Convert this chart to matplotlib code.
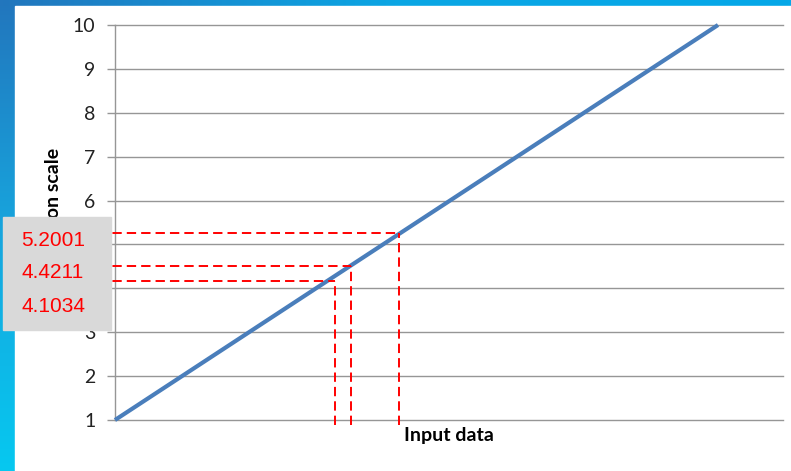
import numpy as np
import matplotlib
matplotlib.use("Agg")
import matplotlib.pyplot as plt
from matplotlib.patches import Rectangle
from matplotlib.colors import LinearSegmentedColormap

# data
line_x = [0, 9]
line_y = [1, 10]
yticks = [1, 2, 3, 4, 5, 6, 7, 8, 9, 10]
mark_x = [3.28, 3.52, 4.24]          # where the dashed verticals drop
mark_y = [4.17, 4.51, 5.25]          # dashed horizontal levels
mark_labels = ["5.2001", "4.4211", "4.1034"]

W, H = 791, 471
fig = plt.figure(figsize=(W / 100, H / 100), dpi=100)

# slide background: blue gradient strip on the left and top
bg = fig.add_axes([0, 0, 1, 1], zorder=-10)
bg.set_xlim(0, W); bg.set_ylim(H, 0); bg.axis("off")
grad = np.linspace(0, 1, 256).reshape(-1, 1)
cm_v = LinearSegmentedColormap.from_list("v", ["#2276bd", "#17a6de", "#06c8f0"])
cm_h = LinearSegmentedColormap.from_list("h", ["#2276bd", "#0ba6e4", "#05a8e8"])
bg.imshow(grad, cmap=cm_v, extent=[0, W, H, 0], aspect="auto")
bg.imshow(grad.T, cmap=cm_h, extent=[0, W, 6, 0], aspect="auto")
bg.add_patch(Rectangle((15, 6), W - 15, H - 6, color="white"))

ax = fig.add_axes([115 / W, 51 / H, 668 / W, 395 / H])
ax.set_xlim(0, 9 * 668 / 603)
ax.set_ylim(1, 10)
ax.patch.set_alpha(0)

grid_c = "#969696"
for yv in yticks:
    ax.axhline(yv, color=grid_c, lw=1.0, clip_on=False, zorder=1)
for s in ["top", "right", "bottom"]:
    ax.spines[s].set_visible(False)
ax.spines["left"].set_color(grid_c)
ax.spines["left"].set_linewidth(1.0)
ax.set_xticks([])
ax.set_yticks(yticks)
ax.tick_params(axis="y", direction="out", length=6, width=1.0, color=grid_c,
               pad=8, labelsize=14, labelcolor="#222222")
for t in ax.get_yticklabels():
    t.set_fontfamily("Lato")

ax.plot(line_x, line_y, color="#4a7ebb", lw=3, solid_capstyle="butt", zorder=3, clip_on=False)

for xv, yv in zip(mark_x, mark_y):
    ax.plot([-0.25, xv], [yv, yv], color="red", lw=1.4, dashes=(4.8, 2.6), zorder=4, clip_on=False)
    ax.plot([xv, xv], [0.89, yv], color="red", lw=1.4, dashes=(4.8, 2.6), zorder=4, clip_on=False)

ax.set_xlabel("Input data", fontsize=14, fontweight="bold", family="Lato", labelpad=5)
fig.text(54 / W, 1 - 148 / H, "Position on scale", rotation=90, ha="center", va="top",
         fontsize=14, fontweight="bold", family="Lato")

# grey label box over the axis title
fig.patches.append(Rectangle((3 / W, 1 - 330 / H), 108 / W, 113 / H,
                             transform=fig.transFigure, color="#d9d9d9", zorder=5))
for lbl, yp in zip(mark_labels, [240, 273, 307]):
    fig.text(53 / W, 1 - yp / H, lbl, ha="center", va="center", fontsize=15,
             color="#ff0000", family="Liberation Sans", zorder=6)

fig.savefig("out.png", dpi=100)
